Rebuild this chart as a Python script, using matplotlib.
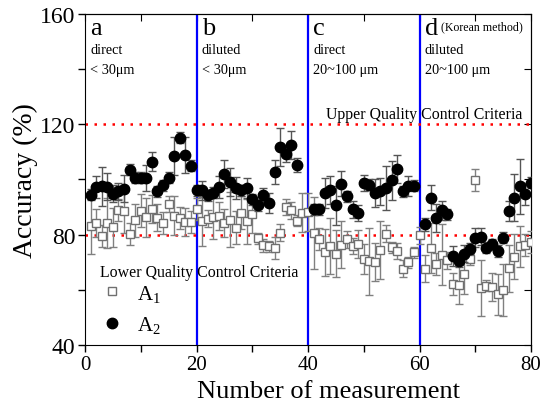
import numpy as np
import matplotlib
matplotlib.use("Agg")
import matplotlib.pyplot as plt
from matplotlib.lines import Line2D

plt.rcParams['font.family'] = ['Liberation Serif', 'DejaVu Serif']
plt.rcParams['mathtext.fontset'] = 'custom'
plt.rcParams['mathtext.rm'] = 'Liberation Serif'
plt.rcParams['mathtext.it'] = 'Liberation Serif:italic'

# measurement numbers
n = np.arange(1, 81)

# A1 (open squares) accuracy and error
a1 = [83.1, 84.2, 79.5, 84.2, 82.7, 89.1, 88.6, 80.2, 85.2, 88.7,
      86.3, 89.4, 86.2, 84.4, 91.2, 86.9, 86.2, 84.7, 84.7, 89.4,
      84.8, 85.8, 86.4, 86.8, 84.2, 85.4, 82.6, 87.9, 84.8, 87.5,
      78.7, 76.1, 75.9, 75.2, 80.7, 90.0, 88.8, 85.1, 88.0, 88.2,
      80.6, 78.5, 73.7, 75.9, 73.1, 76.4, 78.3, 75.9, 76.7, 71.3,
      70.3, 70.1, 74.3, 80.4, 75.5, 74.1, 67.7, 70.1, 73.7, 79.8,
      67.7, 75.2, 69.5, 72.7, 70.7, 62.0, 61.9, 65.6, 71.2, 99.7,
      60.7, 61.5, 61.1, 58.4, 59.9, 67.9, 72.1, 75.8, 76.4, 77.5]
a1_err = [10, 5, 4, 9, 7, 4, 8, 4, 6, 6,
          7, 5, 5, 4, 3, 7, 4, 5, 4, 4,
          9, 3, 8, 5, 5, 10, 6, 6, 8, 7,
          2, 2.5, 2, 4, 3, 3, 3, 2, 7, 7,
          13, 4, 8.5, 10, 8.5, 8.5, 3, 3, 5, 5.5,
          12, 7, 10.5, 3, 2, 3, 3, 2, 2, 3,
          5, 9, 4, 11, 3, 4, 7, 7, 2, 4,
          10, 2, 5, 7.5, 9.5, 8.5, 8, 7.5, 4, 4]

# A2 (filled circles) accuracy and error (nan = no measurement)
a2 = [94.4, 97.4, 97.5, 97.4, 94.9, 95.7, 96.7, 103.6, 100.7, 100.7,
      100.7, 106.4, 95.7, 97.9, 100.6, 108.5, 115.2, 109.0, 104.9, 96.1,
      96.1, 94.3, 95.2, 97.3, 102.1, 99.1, 96.9, 96.1, 96.9, 92.8,
      90.6, 94.3, 91.5, 102.7, 111.8, 109.4, 112.4, 105.2, np.nan, np.nan,
      89.2, 89.2, 95.1, 96.1, 90.6, 98.4, 93.9, 89.2, 87.9, 98.7,
      98.1, 95.2, 95.7, 97.0, 99.7, 103.7, 95.8, 97.7, 97.7, np.nan,
      83.7, 93.4, 86.0, 88.8, 87.4, 72.3, 70.3, 73.1, 74.9, 78.9,
      79.3, 75.3, 76.6, 74.1, 78.9, 88.6, 93.4, 97.5, 94.6, 98.9]
a2_err = [2, 4, 7, 5, 3, 3, 5, 2, 2, 2,
          4.7, 3.5, 2, 2, 2, 7, 2, 6.5, 2, 2,
          3.5, 2, 2, 4, 5, 5, 4, 2, 3.5, 2,
          2, 2.5, 3.5, 4.5, 7, 3, 5, 2.5, 0, 0,
          2, 2, 5.5, 5, 7, 4.5, 2, 3, 3, 3,
          2, 5, 5, 8, 7, 5, 2, 3.5, 2, 0,
          2.5, 4.5, 5, 3.5, 2, 3.5, 2, 3, 2, 3.5,
          3, 2, 2, 2, 2, 3.5, 8.5, 10, 4, 2]

section_edges = [20, 40, 60]
criteria = [80, 120]
section_letters = ['a', 'b', 'c', 'd']
section_lines1 = ['direct', 'diluted', 'direct', 'diluted']
section_lines2 = ['< 30\u03bcm', '< 30\u03bcm', '20~100 \u03bcm', '20~100 \u03bcm']
section_starts = [0, 20, 40, 60]

fig = plt.figure(figsize=(5.52, 4.02), dpi=100)
ax = fig.add_axes([0.154, 0.139, 0.808, 0.824])

for xv in section_edges:
    ax.axvline(xv, color='#0000ff', lw=1.6, zorder=1)
for yv in criteria:
    ax.axhline(yv, color='red', lw=1.8, ls=(0, (1, 2.6)), zorder=1)

ax.errorbar(n, a1, yerr=a1_err, fmt='s', ms=6, mfc='white', mec='#707070',
            mew=1.0, ecolor='#808080', elinewidth=1.0, capsize=3, capthick=1.0, zorder=3)
ax.errorbar(n, a2, yerr=a2_err, fmt='o', ms=7.5, mfc='black', mec='black',
            ecolor='#555555', elinewidth=1.0, capsize=3, capthick=1.0, zorder=4)

ax.set_xlim(0, 80)
ax.set_ylim(40, 160)
ax.set_xticks([0, 20, 40, 60, 80])
ax.set_xticks([10, 30, 50, 70], minor=True)
ax.set_yticks([40, 80, 120, 160])
ax.set_yticks([60, 100, 140], minor=True)
ax.tick_params(which='both', direction='out', length=5, width=1,
               top=False, right=False)
ax.tick_params(axis='x', labelsize=15, pad=2)
ax.tick_params(axis='y', labelsize=17, pad=2)
ax_r = ax.secondary_yaxis('right')
ax_r.set_yticks([40, 60, 80, 100, 120, 140, 160])
ax_r.tick_params(direction='in', length=5, labelright=False)
ax_t = ax.secondary_xaxis('top')
ax_t.set_xticks([0, 10, 20, 30, 40, 50, 60, 70, 80])
ax_t.tick_params(direction='in', length=5, labeltop=False)

ax.set_xlabel('Number of measurement', fontsize=19)
ax.xaxis.set_label_coords(0.547, -0.105)
ax.set_ylabel('Accuracy (%)', fontsize=20)
ax.yaxis.set_label_coords(-0.105, 0.5)

for x0, let, l1, l2 in zip(section_starts, section_letters, section_lines1, section_lines2):
    ax.text(x0 + 0.9, 155.0, let, fontsize=19, va='center', ha='left')
    ax.text(x0 + 0.9, 147.0, l1, fontsize=10.3, va='center', ha='left')
    ax.text(x0 + 0.9, 139.8, l2, fontsize=10.3, va='center', ha='left')
ax.text(63.9, 155.5, '(Korean method)', fontsize=8.6, va='center', ha='left')

ax.text(43.3, 123.6, 'Upper Quality Control Criteria', fontsize=11.4, va='center', ha='left')
ax.text(2.6, 66.6, 'Lower Quality Control Criteria', fontsize=11.4, va='center', ha='left')

handles = [Line2D([], [], ls='none', marker='s', ms=6, mfc='white', mec='#707070'),
           Line2D([], [], ls='none', marker='o', ms=7.5, mfc='black', mec='black')]
ax.legend(handles, ['A$_1$', 'A$_2$'], loc='lower left', bbox_to_anchor=(-0.005, -0.02),
          frameon=False, fontsize=15, handlelength=1.2, handletextpad=0.6,
          labelspacing=0.5, borderpad=0.3)

fig.savefig('out.png', dpi=100)
